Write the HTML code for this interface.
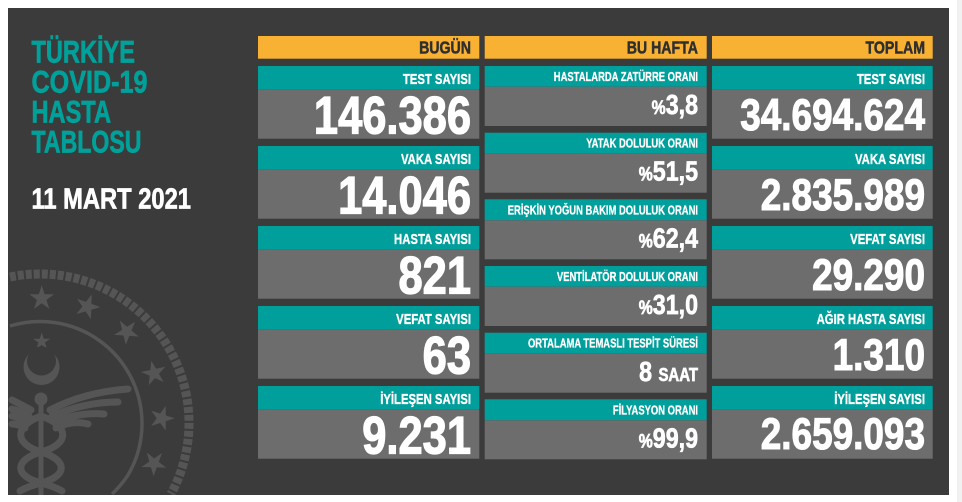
<!DOCTYPE html>
<html>
<head>
<meta charset="utf-8">
<style>
  html,body{margin:0;padding:0;background:#ffffff;width:962px;height:502px;overflow:hidden;}
  svg{display:block;}
  text{font-family:"Liberation Sans", Arial, sans-serif;font-weight:bold;}
</style>
</head>
<body>
<svg width="962" height="502" viewBox="0 0 962 502" xmlns="http://www.w3.org/2000/svg">
  <defs>
    <clipPath id="bgclip"><rect x="8" y="8" width="941" height="487"/></clipPath>
    <polygon id="st" points="0,-1 0.2245,-0.309 0.9511,-0.309 0.3633,0.118 0.5878,0.809 0,0.382 -0.5878,0.809 -0.3633,0.118 -0.9511,-0.309 -0.2245,-0.309"/>
  </defs>

  <!-- page background -->
  <rect x="0" y="0" width="962" height="502" fill="#ffffff"/>
  <rect x="957" y="0" width="5" height="502" fill="#f1f1f1"/>
  <rect x="8" y="8" width="941" height="487" fill="#3b3b3b"/>

  <!-- emblem watermark -->
  <g clip-path="url(#bgclip)" fill="#555555" stroke="#555555">
    <path d="M10,277 A149,149 0 0 1 189,423 A149,149 0 0 1 171,494" fill="none" stroke-width="9" stroke-dasharray="6 2"/>
    <path d="M10,326 A102,102 0 0 1 142,423 A102,102 0 0 1 128,475 A102,102 0 0 1 112,494" fill="none" stroke-width="3.5"/>
    <g stroke="none">
      <use href="#st" transform="translate(41.7,298.3) scale(13)"/>
      <use href="#st" transform="translate(87.3,306.7) scale(13) rotate(20)"/>
      <use href="#st" transform="translate(126.7,331.7) scale(13) rotate(40)"/>
      <use href="#st" transform="translate(154,373.3) scale(13) rotate(60)"/>
      <use href="#st" transform="translate(161.7,418.3) scale(13) rotate(90)"/>
      <use href="#st" transform="translate(154,463.3) scale(13) rotate(110)"/>
      <!-- star + crescent -->
      <use href="#st" transform="translate(41.7,341.5) scale(9)"/>
      <circle cx="41.5" cy="367" r="18"/>
      <circle cx="41.5" cy="361" r="14.5" fill="#3b3b3b"/>
      <!-- staff -->
      <rect x="38.5" y="400" width="5" height="95"/>
      <circle cx="41" cy="399" r="6.5"/>
    </g>
    <!-- wings -->
    <g fill="none" stroke-width="7" stroke-linecap="round">
      <path d="M50,410 Q85,392 128,389"/>
      <path d="M52,416 Q85,402 118,402"/>
      <path d="M54,422 Q80,412 104,414"/>
      <path d="M56,428 Q72,420 88,424"/>
      <path d="M31,410 Q20,404 12,400"/>
      <path d="M29,416 Q20,411 12,409"/>
      <path d="M27,422 Q18,417 12,416"/>
      <path d="M25,428 Q18,424 12,424"/>
      <!-- snakes -->
      <path d="M41,416 C70,426 70,444 41,452 C14,460 14,476 41,483 C56,487 60,490 62,491"/>
      <path d="M41,416 C14,426 14,444 41,452 C68,460 68,476 41,483 C26,487 22,490 20,491"/>
    </g>
  </g>

  <!-- title -->
  <g fill="#00a19a" stroke="#00a19a" stroke-width="0.7">
    <text x="31.5" y="62.7" font-size="31.5" textLength="103.5" lengthAdjust="spacingAndGlyphs">TÜRKİYE</text>
    <text x="31.5" y="92.7" font-size="31.5" textLength="116" lengthAdjust="spacingAndGlyphs">COVID-19</text>
    <text x="31.5" y="122.7" font-size="31.5" textLength="79.5" lengthAdjust="spacingAndGlyphs">HASTA</text>
    <text x="31.5" y="152.7" font-size="31.5" textLength="110" lengthAdjust="spacingAndGlyphs">TABLOSU</text>
  </g>
  <text x="31.5" y="208.3" font-size="29" fill="#ffffff" stroke="#ffffff" stroke-width="0.7" textLength="159.5" lengthAdjust="spacingAndGlyphs">11 MART 2021</text>

  <!-- header bars -->
  <g fill="#f8b133">
    <rect x="258" y="36" width="221.3" height="22.7"/>
    <rect x="484.7" y="36" width="222" height="22.7"/>
    <rect x="712" y="36" width="220.7" height="22.7"/>
  </g>
  <g fill="#2f2f2f" stroke="#2f2f2f" stroke-width="0.5" font-size="17.5" text-anchor="end">
    <text transform="translate(471,53.3) scale(0.81,1)">BUGÜN</text>
    <text transform="translate(698,53.3) scale(0.81,1)">BU HAFTA</text>
    <text transform="translate(925,53.3) scale(0.81,1)">TOPLAM</text>
  </g>

  <!-- left column boxes -->
  <g>
    <rect x="258" y="66" width="221.3" height="23.3" fill="#009f9c"/>
    <rect x="258" y="89.3" width="221.3" height="49.4" fill="#6d6d6d"/>
    <rect x="258" y="146" width="221.3" height="23.3" fill="#009f9c"/>
    <rect x="258" y="169.3" width="221.3" height="49.4" fill="#6d6d6d"/>
    <rect x="258" y="226" width="221.3" height="23.3" fill="#009f9c"/>
    <rect x="258" y="249.3" width="221.3" height="49.4" fill="#6d6d6d"/>
    <rect x="258" y="306" width="221.3" height="23.3" fill="#009f9c"/>
    <rect x="258" y="329.3" width="221.3" height="49.4" fill="#6d6d6d"/>
    <rect x="258" y="386" width="221.3" height="23.3" fill="#009f9c"/>
    <rect x="258" y="409.3" width="221.3" height="49.4" fill="#6d6d6d"/>
  </g>
  <!-- right column boxes -->
  <g>
    <rect x="712" y="66" width="220.7" height="23.3" fill="#009f9c"/>
    <rect x="712" y="89.3" width="220.7" height="49.4" fill="#6d6d6d"/>
    <rect x="712" y="146" width="220.7" height="23.3" fill="#009f9c"/>
    <rect x="712" y="169.3" width="220.7" height="49.4" fill="#6d6d6d"/>
    <rect x="712" y="226" width="220.7" height="23.3" fill="#009f9c"/>
    <rect x="712" y="249.3" width="220.7" height="49.4" fill="#6d6d6d"/>
    <rect x="712" y="306" width="220.7" height="23.3" fill="#009f9c"/>
    <rect x="712" y="329.3" width="220.7" height="49.4" fill="#6d6d6d"/>
    <rect x="712" y="386" width="220.7" height="23.3" fill="#009f9c"/>
    <rect x="712" y="409.3" width="220.7" height="49.4" fill="#6d6d6d"/>
  </g>
  <!-- middle column boxes -->
  <g>
    <rect x="484.7" y="66" width="222" height="20.7" fill="#009f9c"/>
    <rect x="484.7" y="86.7" width="222" height="39.3" fill="#6d6d6d"/>
    <rect x="484.7" y="132.7" width="222" height="21" fill="#009f9c"/>
    <rect x="484.7" y="153.7" width="222" height="39" fill="#6d6d6d"/>
    <rect x="484.7" y="199.3" width="222" height="21" fill="#009f9c"/>
    <rect x="484.7" y="220.3" width="222" height="39" fill="#6d6d6d"/>
    <rect x="484.7" y="266" width="222" height="20.7" fill="#009f9c"/>
    <rect x="484.7" y="286.7" width="222" height="39.3" fill="#6d6d6d"/>
    <rect x="484.7" y="332.7" width="222" height="21" fill="#009f9c"/>
    <rect x="484.7" y="353.7" width="222" height="39" fill="#6d6d6d"/>
    <rect x="484.7" y="399.3" width="222" height="21" fill="#009f9c"/>
    <rect x="484.7" y="420.3" width="222" height="39" fill="#6d6d6d"/>
  </g>

  <!-- left labels -->
  <g fill="#ffffff" stroke="#ffffff" stroke-width="0.35" font-size="15" text-anchor="end">
    <text transform="translate(471,84) scale(0.755,1)">TEST SAYISI</text>
    <text transform="translate(471,164) scale(0.755,1)">VAKA SAYISI</text>
    <text transform="translate(471,244) scale(0.755,1)">HASTA SAYISI</text>
    <text transform="translate(471,324) scale(0.755,1)">VEFAT SAYISI</text>
    <text transform="translate(471,404) scale(0.755,1)">İYİLEŞEN SAYISI</text>
  </g>
  <!-- left numbers -->
  <g fill="#ffffff" stroke="#ffffff" stroke-width="1.3" font-size="53" text-anchor="end">
    <text transform="translate(471,133.5) scale(0.82,1)">146.386</text>
    <text transform="translate(471,213.5) scale(0.82,1)">14.046</text>
    <text transform="translate(471,293.5) scale(0.82,1)">821</text>
    <text transform="translate(471,373.5) scale(0.82,1)">63</text>
    <text transform="translate(471,453.5) scale(0.82,1)">9.231</text>
  </g>

  <!-- right labels -->
  <g fill="#ffffff" stroke="#ffffff" stroke-width="0.35" font-size="15" text-anchor="end">
    <text transform="translate(925,84) scale(0.755,1)">TEST SAYISI</text>
    <text transform="translate(925,164) scale(0.755,1)">VAKA SAYISI</text>
    <text transform="translate(925,244) scale(0.755,1)">VEFAT SAYISI</text>
    <text transform="translate(925,324) scale(0.755,1)">AĞIR HASTA SAYISI</text>
    <text transform="translate(925,404) scale(0.755,1)">İYİLEŞEN SAYISI</text>
  </g>
  <!-- right numbers -->
  <g fill="#ffffff" stroke="#ffffff" stroke-width="1.1" font-size="44.5" text-anchor="end">
    <text transform="translate(925,130) scale(0.83,1)">34.694.624</text>
    <text transform="translate(925,210) scale(0.83,1)">2.835.989</text>
    <text transform="translate(925,290) scale(0.83,1)">29.290</text>
    <text transform="translate(925,370) scale(0.83,1)">1.310</text>
    <text transform="translate(925,449) scale(0.83,1)">2.659.093</text>
  </g>

  <!-- middle labels -->
  <g fill="#ffffff" stroke="#ffffff" stroke-width="0.3" font-size="13" text-anchor="end">
    <text transform="translate(698,81) scale(0.725,1)">HASTALARDA ZATÜRRE ORANI</text>
    <text transform="translate(698,147.7) scale(0.725,1)">YATAK DOLULUK ORANI</text>
    <text transform="translate(698,214.3) scale(0.725,1)">ERİŞKİN YOĞUN BAKIM DOLULUK ORANI</text>
    <text transform="translate(698,281) scale(0.725,1)">VENTİLATÖR DOLULUK ORANI</text>
    <text transform="translate(698,347.7) scale(0.725,1)">ORTALAMA TEMASLI TESPİT SÜRESİ</text>
    <text transform="translate(698,414.3) scale(0.725,1)">FİLYASYON ORANI</text>
  </g>
  <!-- middle numbers -->
  <g fill="#ffffff" stroke="#ffffff" stroke-width="0.7" font-size="28" text-anchor="end">
    <text transform="translate(698,114) scale(0.83,1)"><tspan font-size="19">%</tspan>3,8</text>
    <text transform="translate(698,180.7) scale(0.83,1)"><tspan font-size="19">%</tspan>51,5</text>
    <text transform="translate(698,247.3) scale(0.83,1)"><tspan font-size="19">%</tspan>62,4</text>
    <text transform="translate(698,314) scale(0.83,1)"><tspan font-size="19">%</tspan>31,0</text>
    <text transform="translate(698,381) scale(0.83,1)">8 <tspan font-size="18">SAAT</tspan></text>
    <text transform="translate(698,447.5) scale(0.83,1)"><tspan font-size="19">%</tspan>99,9</text>
  </g>
</svg>
</body>
</html>
